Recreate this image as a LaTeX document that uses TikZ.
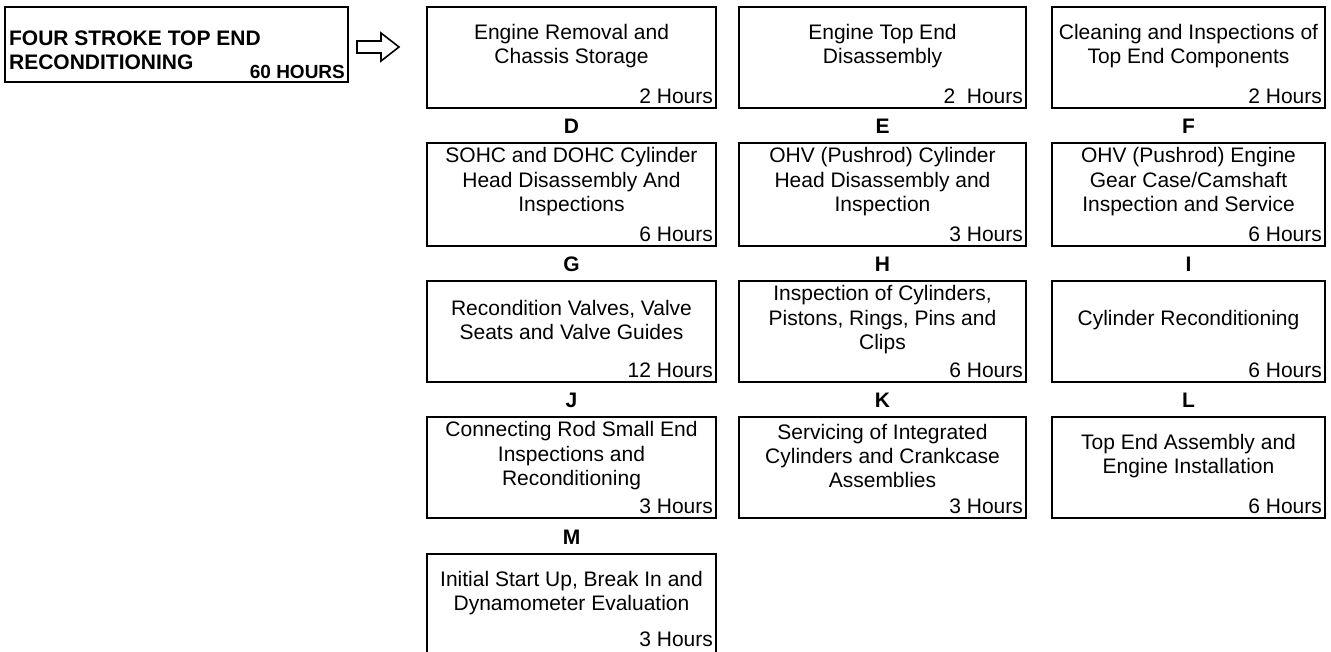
\documentclass[tikz,border=0pt]{standalone}
\usepackage{fontspec}
\setmainfont{Liberation Sans}
\usetikzlibrary{positioning}
\tikzset{
  box/.style={draw,line width=2.2pt,inner sep=0pt,minimum height=101pt},
  taskbox/.style={box,minimum width=#1},
  tasktext/.style={align=center,inner sep=0pt,font=\fontsize{21}{24.4}\selectfont},
  hours/.style={anchor=south east,inner xsep=4pt,inner ysep=5pt,font=\fontsize{21}{24.4}\selectfont},
  letter/.style={inner sep=0pt,font=\fontsize{21}{24.4}\selectfont\bfseries},
}

\begin{document}
\begin{tikzpicture}[x=1pt,y=-1pt]
    \useasboundingbox (0,0) rectangle (1331,652);

    % heading
    \node[box,minimum width=343pt,minimum height=75pt] (title) at (176.5,44.5) {};
    \node[anchor=north west,align=left,inner sep=0pt,font=\fontsize{21}{24}\selectfont\bfseries]
        (titletext) at ([xshift=5pt,yshift=-25pt]title.north west) {FOUR STROKE TOP END\\RECONDITIONING};
    \node[hours,inner ysep=4pt,font=\fontsize{19}{24}\selectfont\bfseries] (titlehours) at (title.south east) {60 HOURS};
    \coordinate (arr) at (357,47);
    \draw[line width=1.6pt,line join=miter] (arr) ++(0,-6) -- ++(24,0) -- ++(0,-8) -- ++(18,14)
        -- ++(-18,14) -- ++(0,-8) -- ++(-24,0) -- cycle;

    % row 1
    \node[taskbox=289pt] (b1) at (571.5,57.5) {};
    \node[taskbox=287pt] (b2) at (882.5,57.5) {};
    \node[taskbox=273pt] (b3) at (1188.5,57.5) {};
    \node[tasktext] (t1) at ([yshift=-40pt]b1.north) {Engine Removal and\\Chassis Storage};
    \node[tasktext] (t2) at ([yshift=-40pt]b2.north) {Engine Top End\\Disassembly};
    \node[tasktext] (t3) at ([yshift=-40pt]b3.north) {Cleaning and Inspections of\\Top End Components};
    \node[hours] (h1) at (b1.south east) {2 Hours};
    \node[hours] (h2) at (b2.south east) {2\ \ Hours};
    \node[hours] (h3) at (b3.south east) {2 Hours};
    \node[letter,below=17.5pt of b1.south,anchor=center] (lD) {D};
    \node[letter,below=17.5pt of b2.south,anchor=center] (lE) {E};
    \node[letter,below=17.5pt of b3.south,anchor=center] (lF) {F};

    % row 2
    \node[taskbox=289pt,minimum height=103pt] (b4) at (571.5,194.5) {};
    \node[taskbox=287pt,minimum height=103pt] (b5) at (882.5,194.5) {};
    \node[taskbox=273pt,minimum height=103pt] (b6) at (1188.5,194.5) {};
    \node[tasktext] (t4) at ([yshift=-40pt]b4.north) {SOHC and DOHC Cylinder\\Head Disassembly And\\Inspections};
    \node[tasktext] (t5) at ([yshift=-40pt]b5.north) {OHV (Pushrod) Cylinder\\Head Disassembly and\\Inspection};
    \node[tasktext] (t6) at ([yshift=-40pt]b6.north) {OHV (Pushrod) Engine\\Gear Case/Camshaft\\Inspection and Service};
    \node[hours] (h4) at (b4.south east) {6 Hours};
    \node[hours] (h5) at (b5.south east) {3 Hours};
    \node[hours] (h6) at (b6.south east) {6 Hours};
    \node[letter,below=17.5pt of b4.south,anchor=center] (lG) {G};
    \node[letter,below=17.5pt of b5.south,anchor=center] (lH) {H};
    \node[letter,below=17.5pt of b6.south,anchor=center] (lI) {I};

    % row 3
    \node[taskbox=289pt] (b7) at (571.5,331.5) {};
    \node[taskbox=287pt] (b8) at (882.5,331.5) {};
    \node[taskbox=273pt] (b9) at (1188.5,331.5) {};
    \node[tasktext] (t7) at ([yshift=-40pt]b7.north) {Recondition Valves, Valve\\Seats and Valve Guides};
    \node[tasktext] (t8) at ([yshift=-40pt]b8.north) {Inspection of Cylinders,\\Pistons, Rings, Pins and\\Clips};
    \node[tasktext] (t9) at ([yshift=-40pt]b9.north) {Cylinder Reconditioning};
    \node[hours] (h7) at (b7.south east) {12 Hours};
    \node[hours] (h8) at (b8.south east) {6 Hours};
    \node[hours] (h9) at (b9.south east) {6 Hours};
    \node[letter,below=17.5pt of b7.south,anchor=center] (lJ) {J};
    \node[letter,below=17.5pt of b8.south,anchor=center] (lK) {K};
    \node[letter,below=17.5pt of b9.south,anchor=center] (lL) {L};

    % row 4
    \node[taskbox=289pt] (b10) at (571.5,467.5) {};
    \node[taskbox=287pt] (b11) at (882.5,467.5) {};
    \node[taskbox=273pt] (b12) at (1188.5,467.5) {};
    \node[tasktext] (t10) at ([yshift=-40pt]b10.north) {Connecting Rod Small End\\Inspections and\\Reconditioning};
    \node[tasktext] (t11) at ([yshift=-40pt]b11.north) {Servicing of Integrated\\Cylinders and Crankcase\\Assemblies};
    \node[tasktext] (t12) at ([yshift=-40pt]b12.north) {Top End Assembly and\\Engine Installation};
    \node[hours] (h10) at (b10.south east) {3 Hours};
    \node[hours] (h11) at (b11.south east) {3 Hours};
    \node[hours] (h12) at (b12.south east) {6 Hours};
    \node[letter,below=18.5pt of b10.south,anchor=center] (lM) {M};

    % row 5, runs off the page
    \node[taskbox=289pt,minimum height=110pt] (b13) at (571.5,609) {};
    \node[tasktext] (t13) at ([yshift=-40pt]b13.north) {Initial Start Up, Break In and\\Dynamometer Evaluation};
    \node[hours,inner ysep=18pt] (h13) at (b13.south east) {3 Hours};
\end{tikzpicture}
\end{document}
